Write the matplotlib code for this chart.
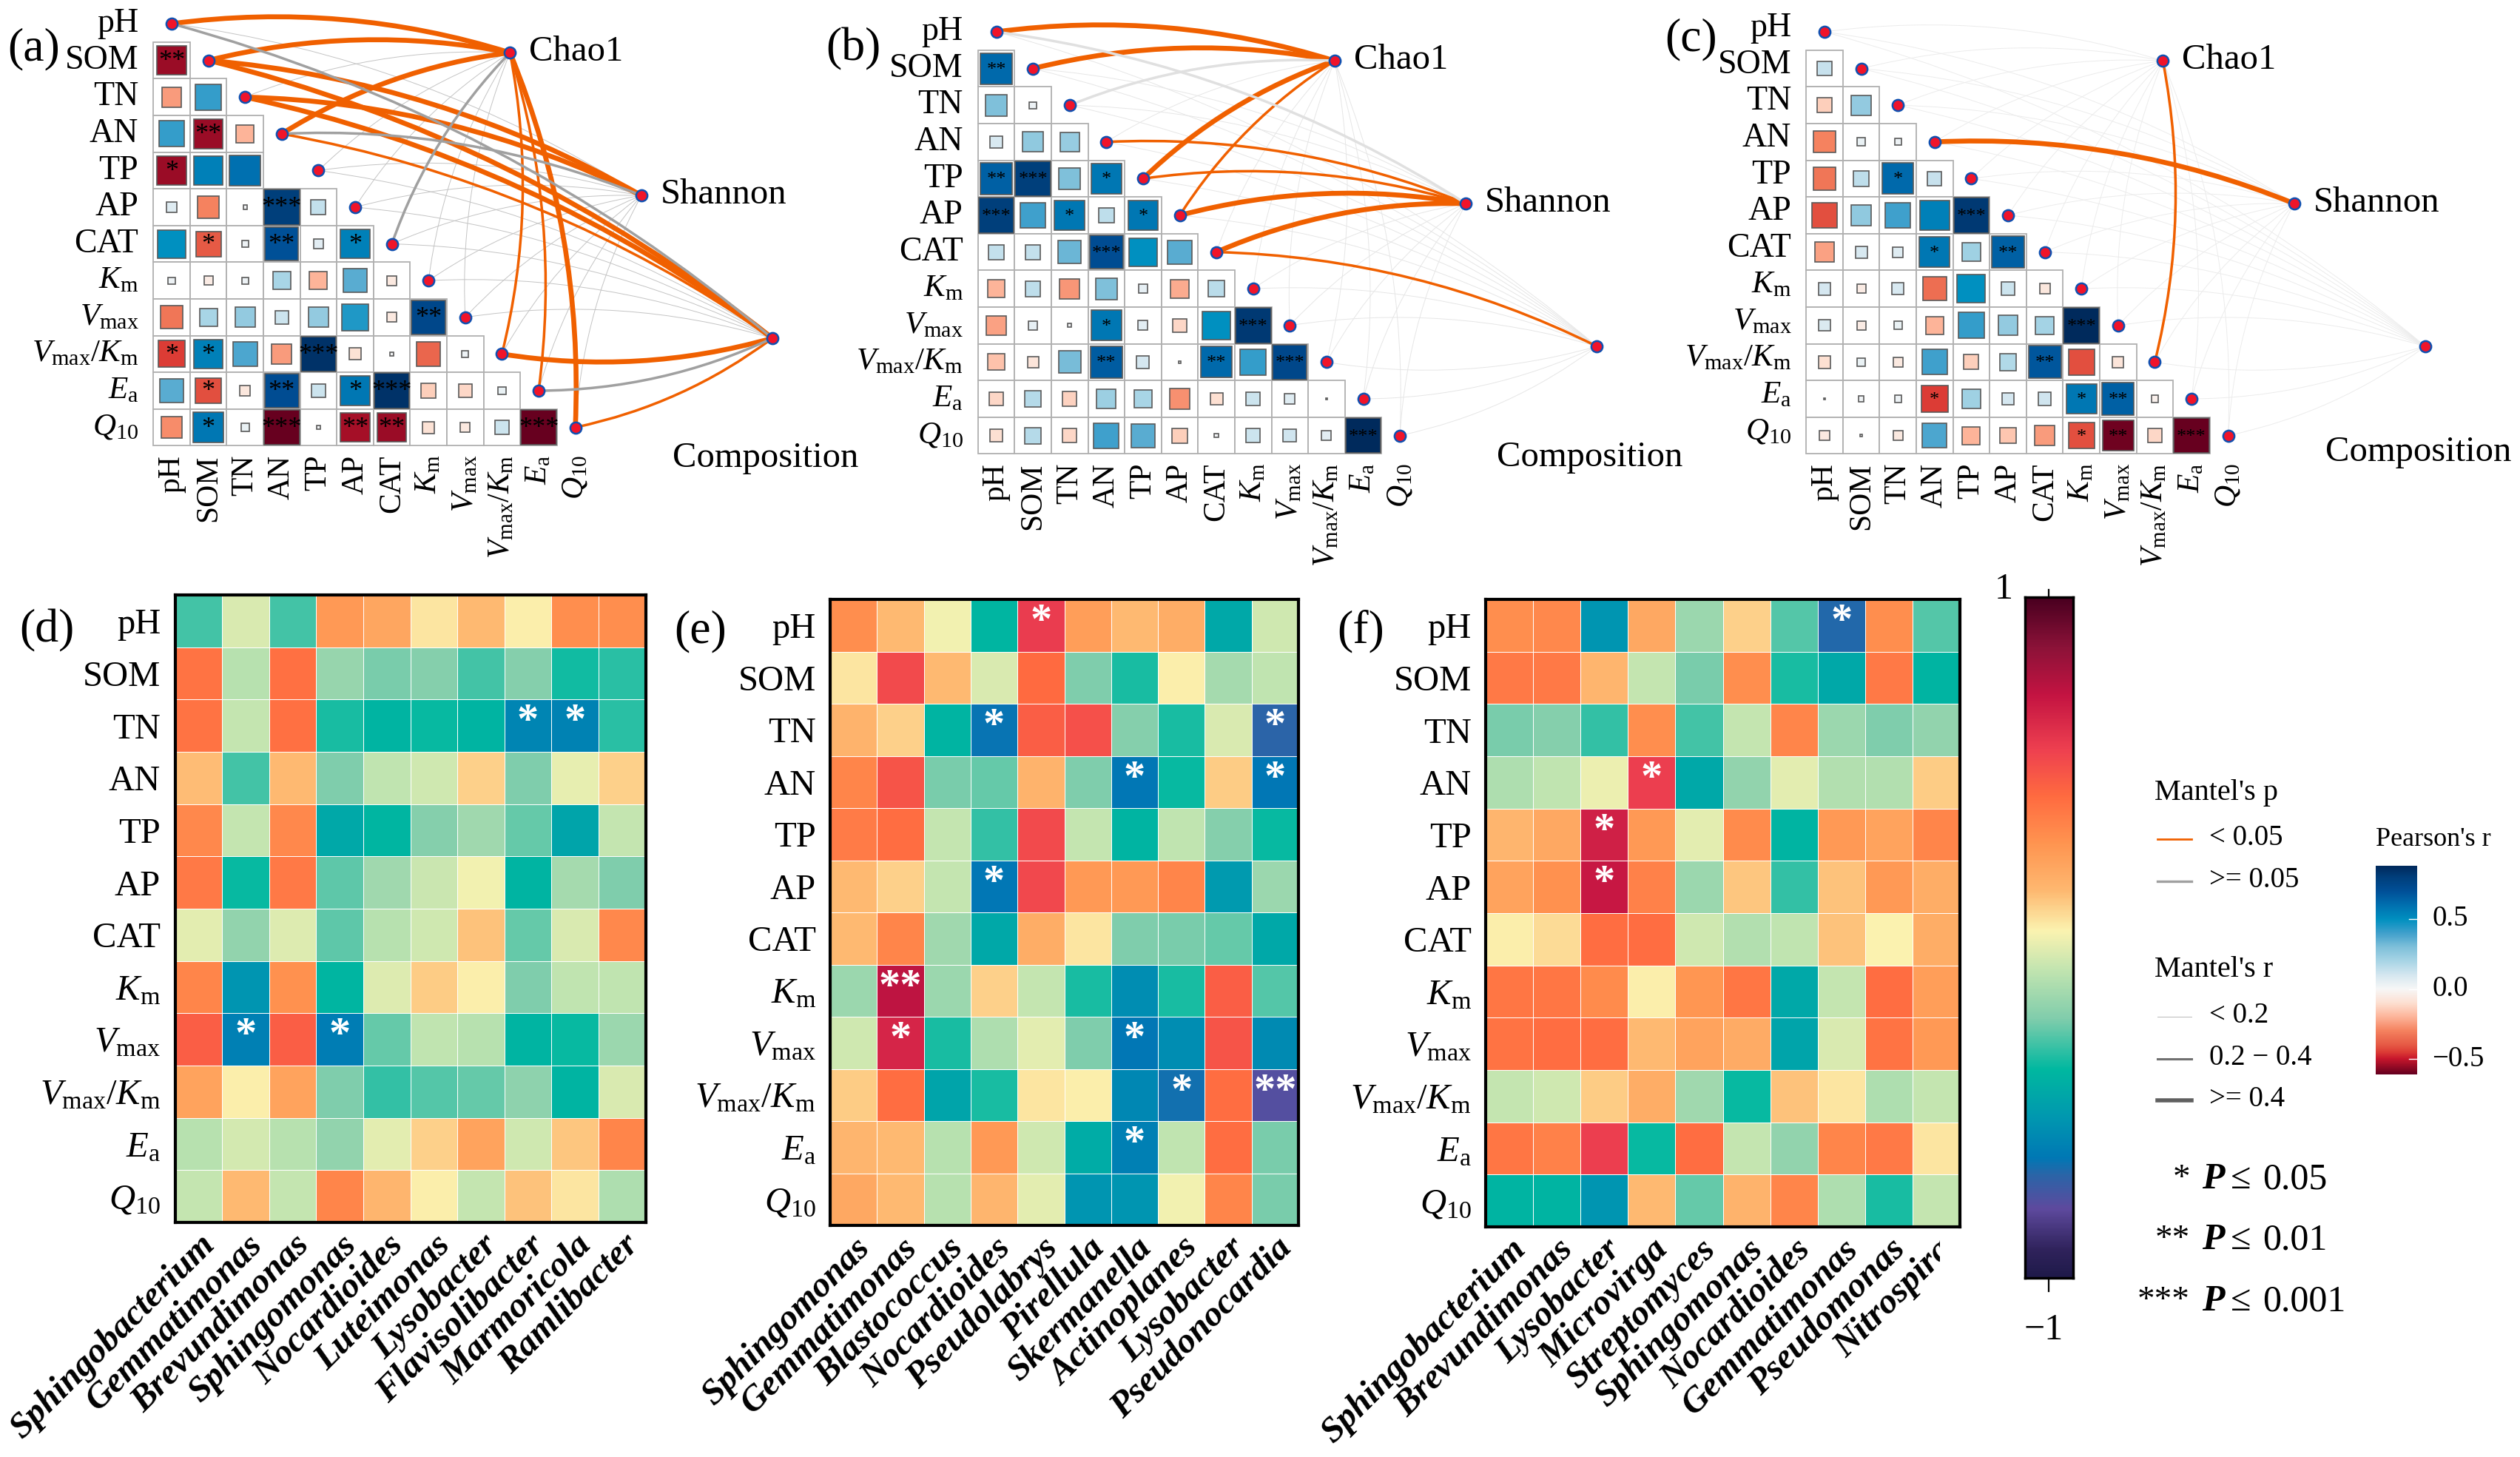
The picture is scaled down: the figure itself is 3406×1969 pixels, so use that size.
import numpy as np
import matplotlib
matplotlib.use('Agg')
import matplotlib.pyplot as plt
from matplotlib.colors import LinearSegmentedColormap, Normalize
from matplotlib.patches import Rectangle, PathPatch
from matplotlib.path import Path
from matplotlib.transforms import Bbox

W, H = 3406, 1969

plt.rcParams['font.family'] = ['Liberation Serif', 'DejaVu Serif']
plt.rcParams['mathtext.fontset'] = 'custom'
plt.rcParams['mathtext.rm'] = 'Liberation Serif'
plt.rcParams['mathtext.it'] = 'Liberation Serif:italic'
plt.rcParams['mathtext.bf'] = 'Liberation Serif:bold'

variables = ['pH', 'SOM', 'TN', 'AN', 'TP', 'AP', 'CAT',
             r'$\mathit{K}_{\mathrm{m}}$', r'$\mathit{V}_{\mathrm{max}}$',
             r'$\mathit{V}_{\mathrm{max}}/\mathit{K}_{\mathrm{m}}$',
             r'$\mathit{E}_{\mathrm{a}}$', r'$\mathit{Q}_{10}$']
targets = ['Chao1', 'Shannon', 'Composition']

# lower triangle of Pearson's r, one list per row from SOM down
corr_a = [[-.55],
          [-.25, .42],
          [.42, -.55, -.2],
          [-.55, .55, .6],
          [.07, -.3, .01, .8, .14],
          [.5, -.4, .03, .7, .06, .55],
          [.03, -.05, .03, .2, -.2, .36, -.06],
          [-.33, .2, .25, .12, .25, .45, -.06, .75],
          [-.45, .55, .38, -.25, .85, -.09, .01, -.37, .03],
          [.36, -.42, -.07, .72, .12, .58, .85, -.14, -.12, .04],
          [-.28, .58, .04, -.85, .01, -.54, -.55, -.09, -.06, .12, -.88]]
sig_a = [['**'],
         ['', ''],
         ['', '**', ''],
         ['*', '', ''],
         ['', '', '', '***', ''],
         ['', '*', '', '**', '', '*'],
         ['', '', '', '', '', '', ''],
         ['', '', '', '', '', '', '', '**'],
         ['*', '*', '', '', '***', '', '', '', ''],
         ['', '*', '', '**', '', '*', '***', '', '', ''],
         ['', '*', '', '***', '', '**', '**', '', '', '', '***']]

corr_b = [[.62],
          [.3, .03],
          [.09, .26, .24],
          [.65, .8, .3, .58],
          [.8, .4, .58, .15, .58],
          [.14, .14, .33, .72, .5, .36],
          [-.2, .15, -.26, .3, .05, -.22, .16],
          [-.24, .05, .01, .58, .06, -.12, .5, .82],
          [-.17, -.08, .31, .66, .1, .002, .62, .42, .75],
          [-.12, .17, -.13, .23, .2, -.27, -.1, .12, .07, .002],
          [-.1, .17, -.12, .4, .36, -.14, .01, .12, .11, .06, .88]]
sig_b = [['**'],
         ['', ''],
         ['', '', ''],
         ['**', '***', '', '*'],
         ['***', '', '*', '', '*'],
         ['', '', '', '***', '', ''],
         ['', '', '', '', '', '', ''],
         ['', '', '', '*', '', '', '', '***'],
         ['', '', '', '**', '', '', '**', '', '***'],
         ['', '', '', '', '', '', '', '', '', ''],
         ['', '', '', '', '', '', '', '', '', '', '***']]

corr_c = [[.13],
          [-.14, .25],
          [-.3, .04, .03],
          [-.33, .15, .62, .13],
          [-.42, .26, .4, .55, .82],
          [-.24, .09, .07, .58, .22, .65],
          [.1, -.05, .09, -.35, .5, .12, -.07],
          [.08, -.05, .04, -.2, .42, .25, .21, .88],
          [-.1, .04, -.06, .4, -.14, .18, .68, -.42, -.08],
          [.002, .02, .03, -.45, .22, .1, .11, .58, .65, -.03],
          [-.06, .003, -.06, .38, -.2, -.16, -.25, -.42, -.6, -.12, -.88]]
sig_c = [[''],
         ['', ''],
         ['', '', ''],
         ['', '', '*', ''],
         ['', '', '', '', '***'],
         ['', '', '', '*', '', '**'],
         ['', '', '', '', '', '', ''],
         ['', '', '', '', '', '', '', '***'],
         ['', '', '', '', '', '', '**', '', ''],
         ['', '', '', '*', '', '', '', '*', '**', ''],
         ['', '', '', '', '', '', '', '*', '**', '', '***']]

# Mantel links: rows = variables, columns = targets
# 0 thin, 1 medium p<0.05, 2 thick p<0.05, 3 medium p>=0.05
links_a = [[2, 0, 3], [2, 2, 2], [0, 2, 2], [2, 3, 1], [0, 0, 0], [0, 0, 0],
           [3, 0, 0], [0, 0, 0], [0, 0, 0], [1, 0, 2], [1, 0, 3], [2, 0, 1]]
links_b = [[2, 3, 0], [2, 0, 0], [3, 0, 0], [0, 1, 0], [2, 1, 0], [1, 2, 0],
           [0, 2, 1], [0, 0, 0], [0, 0, 0], [0, 0, 0], [0, 0, 0], [0, 0, 0]]
links_c = [[0, 0, 0], [0, 0, 0], [0, 0, 0], [0, 2, 0], [0, 0, 0], [0, 0, 0],
           [0, 0, 0], [0, 0, 0], [0, 0, 0], [1, 0, 0], [0, 0, 0], [0, 0, 0]]

genera_d = ['Sphingobacterium', 'Gemmatimonas', 'Brevundimonas', 'Sphingomonas', 'Nocardioides',
            'Luteimonas', 'Lysobacter', 'Flavisolibacter', 'Marmoricola', 'Ramlibacter']
heat_d = [[-.31, -.05, -.31, .26, .21, .05, .14, .03, .3, .3],
          [.39, -.12, .40, -.19, -.25, -.23, -.31, -.23, -.37, -.34],
          [.39, -.09, .40, -.36, -.41, -.38, -.41, -.60, -.61, -.34],
          [.13, -.31, .14, -.24, -.10, -.07, .09, -.24, -.02, .09],
          [.32, -.09, .32, -.46, -.40, -.23, -.17, -.27, -.48, -.09],
          [.37, -.38, .37, -.28, -.17, -.08, .0, -.41, -.16, -.24],
          [-.03, -.20, -.04, -.28, -.12, -.07, .12, -.27, -.05, .32],
          [.33, -.54, .29, -.40, -.04, .10, .03, -.24, -.10, -.10],
          [.46, -.62, .46, -.63, -.27, -.10, -.12, -.41, -.38, -.18],
          [.22, .03, .22, -.24, -.33, -.29, -.27, -.21, -.41, -.05],
          [-.12, -.06, -.12, -.20, -.03, .09, .22, -.07, .11, .33],
          [-.09, .14, -.09, .33, .15, .03, -.09, .12, .05, -.14]]
stars_d = [(2, 7, '*'), (2, 8, '*'), (8, 1, '*'), (8, 3, '*')]

genera_e = ['Sphingomonas', 'Gemmatimonas', 'Blastococcus', 'Nocardioides', 'Pseudolabrys',
            'Pirellula', 'Skermanella', 'Actinoplanes', 'Lysobacter', 'Pseudonocardia']
heat_e = [[.30, .14, .0, -.40, .57, .24, .14, .18, -.46, -.07],
          [.05, .52, .14, -.05, .42, -.24, -.36, .03, -.16, -.10],
          [.16, .09, -.41, -.66, .46, .50, -.23, -.36, -.05, -.70],
          [.33, .49, -.25, -.27, .16, -.24, -.65, -.38, .10, -.65],
          [.36, .41, -.09, -.33, .52, -.09, -.41, -.10, -.23, -.38],
          [.14, .09, -.09, -.65, .53, .26, .26, .33, -.52, -.18],
          [.14, .33, -.17, -.46, .18, .05, -.24, -.25, -.27, -.46],
          [-.18, .73, -.18, .09, -.09, -.36, -.57, -.36, .46, -.29],
          [-.07, .65, -.36, -.14, -.03, -.24, -.65, -.57, .49, -.58],
          [.10, .41, -.48, -.36, .05, .03, -.59, -.67, .41, -.78],
          [.15, .14, -.12, .26, -.07, -.44, -.62, -.10, .41, -.25],
          [.20, .14, -.12, .15, -.03, -.54, -.54, .0, .33, -.25]]
stars_e = [(0, 4, '*'), (2, 3, '*'), (2, 9, '*'), (3, 6, '*'), (3, 9, '*'), (5, 3, '*'),
           (7, 1, '**'), (8, 1, '*'), (8, 6, '*'), (9, 7, '*'), (9, 9, '**'), (10, 6, '*')]

genera_f = ['Sphingobacterium', 'Brevundimonas', 'Lysobacter', 'Microvirga', 'Streptomyces',
            'Sphingomonas', 'Nocardioides', 'Gemmatimonas', 'Pseudomonas', 'Nitrospira']
heat_f = [[.30, .32, -.54, .20, -.18, .09, -.29, -.69, .30, -.29],
          [.37, .37, .15, -.09, -.25, .30, -.36, -.46, .37, -.41],
          [-.25, -.23, -.33, .30, -.31, -.09, .33, -.18, -.24, -.20],
          [-.14, -.10, -.01, .56, -.46, -.20, -.03, -.13, -.13, .10],
          [.15, .20, .67, .26, -.03, .31, -.41, .26, .22, .33],
          [.22, .29, .70, .34, -.18, .11, -.33, .12, .26, .18],
          [.03, .07, .41, .41, -.07, -.13, -.10, .12, .02, .18],
          [.38, .38, .31, .03, .27, .38, -.46, -.09, .41, .24],
          [.39, .41, .41, .14, .22, .19, -.48, -.05, .39, .26],
          [-.09, -.07, .10, .18, -.17, -.38, .12, .05, -.14, -.09],
          [.38, .34, .56, -.38, .41, -.09, -.20, .33, .37, .05],
          [-.41, -.41, -.54, .14, -.27, .16, .33, -.14, -.36, -.09]]
stars_f = [(0, 7, '*'), (3, 3, '*'), (4, 2, '*'), (5, 2, '*')]

# colour scales
heat_stops = [-1, -.92, -.80, -.70, -.65, -.53, -.39, -.24, -.10, .02, .14, .28, .42, .555, .715, .86, 1]
heat_colors = ['#1f1a4a', '#30235c', '#5e4a9e', '#2a65a8', '#0078b5', '#0098b0', '#00b8a0', '#80cdac',
               '#c0e4b0', '#fbf3b0', '#feb870', '#ff9450', '#ff6a40', '#ee4050', '#c41442', '#8a1238', '#4a0020']
corr_stops = [-.61, -.5, -.45, -.4, -.3, -.2, -.1, 0, .1, .2, .3, .4, .5, .6, .7, .8, .88]
corr_colors = ['#67001f', '#c8172c', '#dd3e36', '#e65a45', '#f5825f', '#fdb59a', '#fde0d2', '#f7f7f7', '#d5e7f0',
               '#a8d5e6', '#7fc0da', '#40a0cc', '#0090c0', '#0070b0', '#005098', '#003f7c', '#002a5c']


def make_cmap(stops, colors):
    lo, hi = stops[0], stops[-1]
    pos = [(s - lo) / (hi - lo) for s in stops]
    return LinearSegmentedColormap.from_list('c', list(zip(pos, colors)), N=512), Normalize(lo, hi)


heat_cmap, heat_norm = make_cmap(heat_stops, heat_colors)
corr_cmap, corr_norm = make_cmap(corr_stops, corr_colors)

fig = plt.figure(figsize=(W / 100, H / 100), dpi=100, facecolor='white')


def px_axes(x0, y0, x1, y1):
    return fig.add_axes([x0 / W, 1 - y1 / H, (x1 - x0) / W, (y1 - y0) / H])


CELL = 49.6
TARGET_POS = [(9.22, .79), (12.8, 4.68), (16.37, 8.57)]
LINK_STYLE = {1: ('#f06000', 2.5), 2: ('#f06000', 4.8)}


def triangle_panel(ox, oy, corr, sig, links, tag, tag_xy, comp_y, thin_color, grey_color, star_size, label_dy=0):
    ax = px_axes(ox - 4 * CELL, oy - CELL, ox + 19 * CELL, oy + 15 * CELL)
    ax.set_xlim(-4, 19)
    ax.set_ylim(15, -1)
    ax.axis('off')

    for i, row in enumerate(corr):
        for j, r in enumerate(row):
            ax.add_patch(Rectangle((j - .5, i + .5), 1, 1, fc='white', ec='#b0b0b0', lw=1.3, zorder=1))
            side = min(.96, np.sqrt(abs(r)) * 1.08)
            ax.add_patch(Rectangle((j - side / 2, i + 1 - side / 2), side, side, fc=corr_cmap(corr_norm(r)),
                                   ec='#5a5a5a', lw=1.2, zorder=2))
            if sig[i][j]:
                ax.text(j, i + 1 + .04, sig[i][j], ha='center', va='center', fontsize=star_size,
                        color='black', zorder=3)

    nodes = [(k, k) for k in range(12)]
    # thin links underneath, thick ones on top
    order = sorted([(links[i][t], i, t) for i in range(12) for t in range(3)])
    for code, i, t in order:
        x0, y0 = nodes[i]
        x1, y1 = TARGET_POS[t]
        dx, dy = x1 - x0, y1 - y0
        nx, ny = -dy, dx
        if dx < 1:
            # nearly under the target: bow to the right
            if nx < 0:
                nx, ny = -nx, -ny
        else:
            below = t == 2 and y0 > y1
            if (below and ny < 0) or (not below and ny > 0):
                nx, ny = -nx, -ny
        cx, cy = (x0 + x1) / 2 + .11 * nx, (y0 + y1) / 2 + .11 * ny
        if code == 0:
            color, lw = thin_color, .7
        elif code == 3:
            color, lw = grey_color, 2.5
        else:
            color, lw = LINK_STYLE[code]
        path = Path([(x0, y0), (cx, cy), (x1, y1)], [Path.MOVETO, Path.CURVE3, Path.CURVE3])
        ax.add_patch(PathPatch(path, fc='none', ec=color, lw=lw, zorder=4 + (code > 0)))

    pts = nodes + TARGET_POS
    ax.plot([p[0] for p in pts], [p[1] for p in pts], 'o', ms=11, mfc='#f0142a', mec='#1050b0', mew=1.8,
            zorder=6, clip_on=False)

    for k, name in enumerate(variables):
        size = 31 if name.startswith('$') else 33
        ax.text(-.9, k + label_dy, name, ha='right', va='center', fontsize=size)
        ax.text(k, 11.75, name, ha='center', va='top', rotation=90, fontsize=30)
    ax.text(TARGET_POS[0][0] + .52, TARGET_POS[0][1] - .02, targets[0], va='center', fontsize=35)
    ax.text(TARGET_POS[1][0] + .52, TARGET_POS[1][1] - .02, targets[1], va='center', fontsize=35)
    ax.text(13.64, comp_y, targets[2], va='center', fontsize=35)
    fig.text(tag_xy[0] / W, 1 - tag_xy[1] / H, tag, va='center', fontsize=46)


def heat_panel(x0, y0, x1, y1, data, genera, stars, tag, tag_xy, clip_right=None):
    ax = px_axes(x0, y0, x1, y1)
    vals = np.array(data)
    ax.pcolormesh(np.arange(11), np.arange(13), vals, cmap=heat_cmap, norm=heat_norm,
                  edgecolors='white', linewidth=.6)
    ax.set_ylim(12, 0)
    ax.set_xlim(0, 10)
    ax.set_yticks(np.arange(12) + .5)
    ax.set_yticklabels(variables, fontsize=35)
    ax.set_xticks(np.arange(10) + .5)
    labs = ax.set_xticklabels(genera, fontsize=35, rotation=45, ha='right', va='top', rotation_mode='anchor',
                              fontweight='bold', fontstyle='italic')
    if clip_right:
        # the last name is cut off in the source figure
        labs[-1].set_clip_box(Bbox([[0, 0], [clip_right, H]]))
        labs[-1].set_clip_on(True)
    ax.tick_params(length=0, axis='y', pad=14)
    ax.tick_params(length=0, axis='x', pad=6)
    for s in ax.spines.values():
        s.set_linewidth(3)
    for r, c, st in stars:
        ax.text(c + .5, r + .44, st, ha='center', va='center', color='white', fontsize=42, fontweight='bold')
    fig.text(tag_xy[0] / W, 1 - tag_xy[1] / H, tag, va='center', fontsize=46)


triangle_panel(232, 32, corr_a, sig_a, links_a, '(a)', (10, 66), 11.83, '#c4c4c4', '#a0a0a0', 26)
triangle_panel(1346.5, 43, corr_b, sig_b, links_b, '(b)', (1116, 66), 11.6, '#e6e6e6', '#e0e0e0', 19)
triangle_panel(2466, 43, corr_c, sig_c, links_c, '(c)', (2250, 53), 11.45, '#ececec', '#e0e0e0', 19, label_dy=-.1)

heat_panel(236.5, 804, 872.5, 1652, heat_d, genera_d, stars_d, '(d)', (26, 852))
heat_panel(1122, 810, 1755, 1656, heat_e, genera_e, stars_e, '(e)', (911, 853))
heat_panel(2008, 810, 2649, 1658, heat_f, genera_f, stars_f, '(f)', (1807, 853), clip_right=2622)

# long colour bar
cax = px_axes(2737, 807, 2802, 1727)
cax.imshow(np.linspace(1, -1, 400).reshape(-1, 1), aspect='auto', cmap=heat_cmap, norm=heat_norm,
           extent=[0, 1, -1, 1])
cax.set_xticks([])
cax.set_yticks([])
for s in cax.spines.values():
    s.set_linewidth(2.5)

# legends are laid out in figure pixels
lax = px_axes(0, 0, W, H)
lax.set_xlim(0, W)
lax.set_ylim(H, 0)
lax.axis('off')
lax.plot([2769, 2769], [797, 807], color='black', lw=1.6)
lax.plot([2769, 2769], [1727, 1745], color='black', lw=1.6)
lax.text(2708, 797, '1', ha='center', va='center', fontsize=36)
lax.text(2762, 1798, '\u22121', ha='center', va='center', fontsize=36)

lax.text(2912, 1071, "Mantel's p", va='center', fontsize=29)
lax.plot([2916, 2962], [1134, 1134], color='#f06000', lw=2)
lax.text(2986, 1132, '< 0.05', va='center', fontsize=28)
lax.plot([2916, 2962], [1191, 1191], color='#a0a0a0', lw=2.4)
lax.text(2986, 1189, '>= 0.05', va='center', fontsize=28)
lax.text(2912, 1310, "Mantel's r", va='center', fontsize=29)
lax.plot([2916, 2962], [1374, 1374], color='#b8b8b8', lw=.7)
lax.text(2986, 1372, '< 0.2', va='center', fontsize=28)
lax.plot([2916, 2962], [1431, 1431], color='#707070', lw=2.2)
lax.text(2986, 1429, '0.2 \u2212 0.4', va='center', fontsize=28)
lax.plot([2916, 2962], [1487, 1487], color='#606060', lw=4)
lax.text(2986, 1485, '>= 0.4', va='center', fontsize=28)

for y, st, num in [(1594, '*', '0.05'), (1676, '**', '0.01'), (1759, '***', '0.001')]:
    lax.text(2960, y, st, ha='right', va='center', fontsize=34)
    lax.text(2976, y, 'P', va='center', fontsize=36, fontweight='bold', fontstyle='italic')
    lax.text(3015, y, '\u2264', va='center', fontsize=36)
    lax.text(3058, y, num, va='center', fontsize=36)

lax.text(3211, 1134, "Pearson's r", va='center', fontsize=26)
pax = px_axes(3211, 1170, 3267, 1452)
pax.imshow(np.linspace(.88, -.61, 300).reshape(-1, 1), aspect='auto', cmap=corr_cmap, norm=corr_norm,
           extent=[0, 1, -.61, .88])
pax.axis('off')
for tick, lab in [(.5, '0.5'), (0, '0.0'), (-.5, '\u22120.5')]:
    pax.plot([.8, 1], [tick, tick], color='white', lw=1)
    pax.text(1.36, tick, lab, va='center', fontsize=28)
pax.set_xlim(0, 1)
pax.set_ylim(-.61, .88)

fig.savefig('out.png', dpi=100, facecolor='white')
